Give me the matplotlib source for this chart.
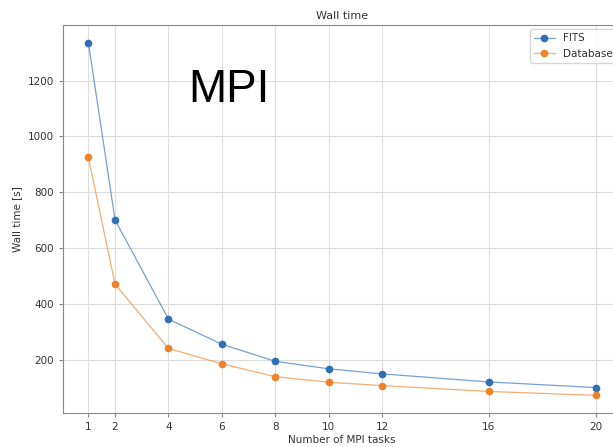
import matplotlib.pyplot as plt
from matplotlib.colors import to_rgba

tasks = [1, 2, 4, 6, 8, 10, 12, 16, 20]
fits_time = [1336, 701, 346, 256, 195, 168, 150, 121, 101]
db_time = [925, 471, 241, 186, 140, 120, 108, 87, 73]

W, H = 613, 447
fig = plt.figure(figsize=(W / 100, H / 100), dpi=100)
ax = fig.add_axes([63 / W, (H - 413) / H, (621 - 63) / W, (413 - 25) / H])

for y, c, name in [(fits_time, '#2f6fb5', 'FITS'), (db_time, '#f0822a', 'Database')]:
    ax.plot(tasks, y, color=to_rgba(c, 0.65), lw=0.9, marker='o', ms=4.5,
            markerfacecolor=c, markeredgecolor=c, label=name)

ax.set_xticks(tasks)
ax.grid(True, color='#dddddd', lw=0.8)
ax.set_axisbelow(True)
for s in ax.spines.values():
    s.set_color('#888888')
ax.tick_params(labelsize=7.5, colors='#888888', labelcolor='#333333', length=3)

ax.set_title('Wall time', fontsize=8, color='#333333', pad=4)
ax.set_xlabel('Number of MPI tasks', fontsize=7.5, color='#333333', labelpad=2)
ax.set_ylabel('Wall time [s]', fontsize=7.5, color='#333333')

leg = ax.legend(loc='upper right', fontsize=7.5, borderaxespad=0.4)
for t in leg.get_texts():
    t.set_color('#333333')

fig.text(188 / W, 1 - 102 / H, 'MPI', fontsize=33, family='Liberation Sans', color='black')

fig.savefig('out.png', dpi=100)
